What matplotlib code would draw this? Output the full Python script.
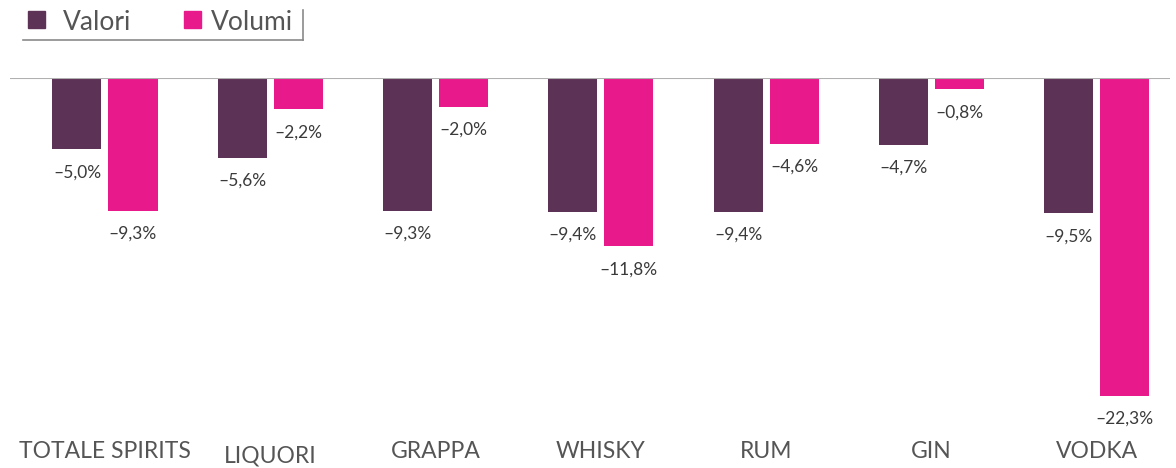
import numpy as np
import matplotlib
matplotlib.use('Agg')
import matplotlib.pyplot as plt
from matplotlib.patches import Rectangle
from matplotlib.lines import Line2D
import matplotlib.transforms as mtransforms

categories = ['TOTALE SPIRITS', 'LIQUORI', 'GRAPPA', 'WHISKY', 'RUM', 'GIN', 'VODKA']
valori = [-5.0, -5.6, -9.3, -9.4, -9.4, -4.7, -9.5]
volumi = [-9.3, -2.2, -2.0, -11.8, -4.6, -0.8, -22.3]
series_names = ['Valori', 'Volumi']

COL_VALORI = '#5d3257'
COL_VOLUMI = '#e8198b'
TXT = '#3a3a3a'
plt.rcParams['font.family'] = ['Lato', 'DejaVu Sans']

W, H = 1176, 468
fig = plt.figure(figsize=(W / 100, H / 100), dpi=100)

# axes in pixel terms: x 10..1170, y from 78 (zero line) down to 430
ax = fig.add_axes([10 / W, (H - 430) / H, 1160 / W, (430 - 78) / H])
px_per_pct = 318 / 22.3
ax.set_ylim(-(430 - 78) / px_per_pct, 0)
unit = 165.3
ax.set_xlim(-(105 - 10) / unit, -(105 - 10) / unit + 1160 / unit)

x = np.arange(len(categories))
bw = 49 / unit
off = 28 / unit
b1 = ax.bar(x - off, valori, bw, color=COL_VALORI, zorder=2)
b2 = ax.bar(x + off, volumi, bw, color=COL_VOLUMI, zorder=2)

for bars, vals in ((b1, valori), (b2, volumi)):
    for b, v in zip(bars, vals):
        lab = ('%.1f%%' % v).replace('.', ',').replace('-', '\u2013')
        ax.annotate(lab, (b.get_x() + b.get_width() / 2, v), xytext=(0, -23),
                    textcoords='offset pixels', ha='center', va='center',
                    fontsize=12.5, color=TXT, annotation_clip=False)

ax.axhline(0, color='#b0b0b0', lw=1.5, zorder=3)

for s in ax.spines.values():
    s.set_visible(False)
ax.set_yticks([])
ax.set_xticks(x)
ax.set_xticklabels(categories, fontsize=16.5, color='#555555')
ax.tick_params(axis='x', length=0, pad=8)
# LIQUORI sits a little lower in the original
lab = ax.get_xticklabels()[1]
lab.set_transform(lab.get_transform() + mtransforms.ScaledTranslation(0, -4 / 100, fig.dpi_scale_trans))

# legend, drawn by hand
def fx(px):
    return px / W

def fy(py):
    return (H - py) / H

for (sx, tx), col, name in zip(((28, 63), (184, 211)), (COL_VALORI, COL_VOLUMI), series_names):
    fig.add_artist(Rectangle((fx(sx), fy(28)), 17 / W, 17 / H, transform=fig.transFigure,
                             color=col))
    fig.text(fx(tx), fy(22), name, fontsize=19, color='#555555', va='center', ha='left')
fig.add_artist(Line2D([fx(23), fx(303)], [fy(40), fy(40)], color='#8a8a8a', lw=1.2))
fig.add_artist(Line2D([fx(303), fx(303)], [fy(10), fy(40)], color='#8a8a8a', lw=1.2))

fig.savefig('out.png', dpi=100)
